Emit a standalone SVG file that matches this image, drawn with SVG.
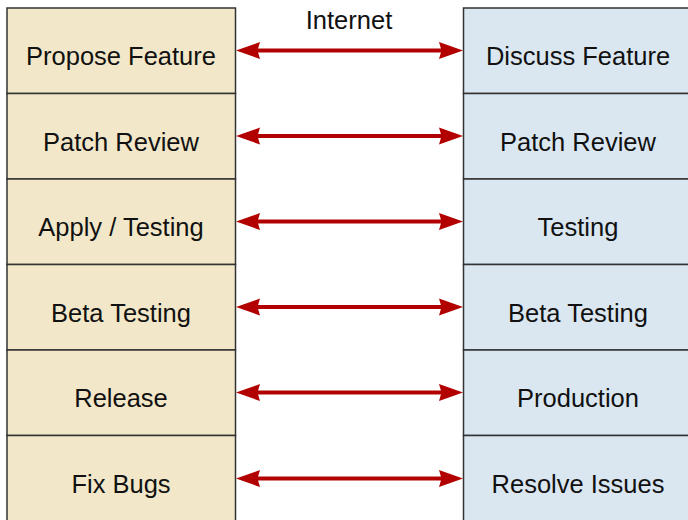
<svg xmlns="http://www.w3.org/2000/svg" width="688" height="520" viewBox="0 0 688 520">
<style>
.l{fill:#f2e8c9;stroke:#333;stroke-width:1.5}
.r{fill:#dae7f1;stroke:#333;stroke-width:1.5}
text{font-family:"Liberation Sans",Arial,sans-serif;font-size:25.5px;fill:#111;text-anchor:middle}
.c{stroke:#b20000;stroke-width:3.8;fill:none;marker-start:url(#ah);marker-end:url(#ah)}
</style>
<defs>
<marker id="ah" markerUnits="userSpaceOnUse" markerWidth="30" markerHeight="20" refX="0" refY="0" viewBox="-10 -10 30 20" orient="auto-start-reverse" overflow="visible">
<path d="M16,0 L-8,-8.5 L-5.5,0 L-8,8.5 Z" fill="#b20000"/>
</marker>
</defs>
<rect width="688" height="520" fill="#fff"/>
<text x="349" y="28.5">Internet</text>
<g id="left-1"><rect class="l" x="7" y="8" width="228.5" height="85.5"/><text x="121" y="65">Propose Feature</text></g>
<g id="left-2"><rect class="l" x="7" y="93.5" width="228.5" height="85.5"/><text x="121" y="150.5">Patch Review</text></g>
<g id="left-3"><rect class="l" x="7" y="179" width="228.5" height="85.5"/><text x="121" y="236">Apply / Testing</text></g>
<g id="left-4"><rect class="l" x="7" y="264.5" width="228.5" height="85.5"/><text x="121" y="321.5">Beta Testing</text></g>
<g id="left-5"><rect class="l" x="7" y="350" width="228.5" height="85.5"/><text x="121" y="407">Release</text></g>
<g id="left-6"><rect class="l" x="7" y="435.5" width="228.5" height="90"/><text x="121" y="492.5">Fix Bugs</text></g>
<g id="right-1"><rect class="r" x="463.5" y="8" width="230" height="85.5"/><text x="578" y="65">Discuss Feature</text></g>
<g id="right-2"><rect class="r" x="463.5" y="93.5" width="230" height="85.5"/><text x="578" y="150.5">Patch Review</text></g>
<g id="right-3"><rect class="r" x="463.5" y="179" width="230" height="85.5"/><text x="578" y="236">Testing</text></g>
<g id="right-4"><rect class="r" x="463.5" y="264.5" width="230" height="85.5"/><text x="578" y="321.5">Beta Testing</text></g>
<g id="right-5"><rect class="r" x="463.5" y="350" width="230" height="85.5"/><text x="578" y="407">Production</text></g>
<g id="right-6"><rect class="r" x="463.5" y="435.5" width="230" height="90"/><text x="578" y="492.5">Resolve Issues</text></g>
<g id="connectors">
<path class="c" d="M252,50.5 H447"/>
<path class="c" d="M252,136 H447"/>
<path class="c" d="M252,221.5 H447"/>
<path class="c" d="M252,307 H447"/>
<path class="c" d="M252,392.5 H447"/>
<path class="c" d="M252,478.5 H447"/>
</g>
</svg>
